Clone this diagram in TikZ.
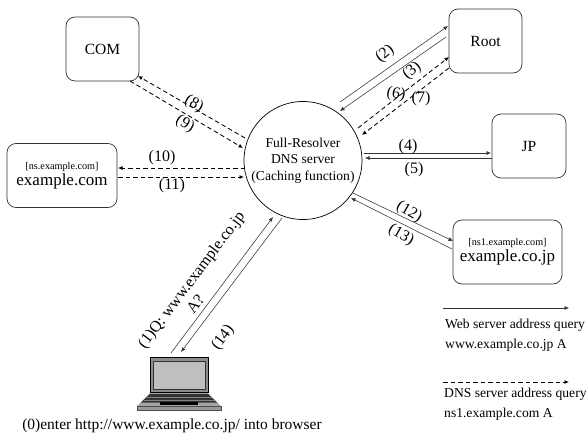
\documentclass[tikz,border=0pt]{standalone}
\usepackage{fontspec}
\setmainfont{Liberation Serif}
\usetikzlibrary{arrows.meta,calc}
\tikzset{
  x=1pt,y=-1pt,
  srv/.style={draw=black!80,line width=0.7pt,rounded corners=9pt,minimum width=#1,minimum height=64pt,inner sep=0pt,align=center},
  srv/.default=73pt,
  solidq/.style={draw=black!80,line width=0.55pt,-{Latex[length=4.5pt,width=4pt]}},
  dashq/.style={draw=black,line width=0.85pt,dash pattern=on 4.5pt off 3pt,-{Latex[length=4.5pt,width=4pt]}},
  lbl/.style={font=\fontsize{16}{18}\selectfont,inner sep=0pt},
  big/.style={font=\fontsize{15.5}{18}\selectfont},
  txt/.style={font=\fontsize{13.6}{19}\selectfont,inner sep=0pt,anchor=west},
}
\newcommand{\smalltag}[1]{{\fontsize{10.2}{12}\selectfont #1}}
\newcommand{\bigname}[1]{{\fontsize{17}{21}\selectfont #1}}
\begin{document}
\begin{tikzpicture}
\useasboundingbox (0,0) rectangle (587,434);
% servers
\node[srv=73pt,big] (com) at (102.5,49) {COM};
\node[srv=73pt,big] (root) at (485.5,41) {Root};
\node[srv=74pt,big] (jp) at (529,146) {JP};
\node[srv=110pt] (excom) at (62,175.5) {\smalltag{[ns.example.com]}\\[1pt]\bigname{example.com}};
\node[srv=109pt] (exjp) at (507.5,252) {\smalltag{[ns1.example.com]}\\[1pt]\bigname{example.co.jp}};
\node[circle,draw=black,line width=0.7pt,minimum size=118pt,inner sep=0pt,align=center,font=\fontsize{13.6}{16.5}\selectfont] (res) at (303,160.5) {Full-Resolver\\DNS server\\(Caching function)};
% laptop
\node[inner sep=0pt,minimum width=58pt,minimum height=36pt] (pc) at (179,375) {};
\fill[black!35] (150,393) -- (208,393) -- (221,406) -- (137,406) -- cycle;
\fill[black!80] (150,394) -- (208,394) -- (217,402.5) -- (141,402.5) -- cycle;
\draw[black!50,line width=0.5pt] (146.5,397.5) -- (211.5,397.5) (143.5,400.5) -- (214.5,400.5);
\draw[black!70,line width=0.6pt,fill=black!40] (137,406) rectangle (221,410);
\draw[black,line width=0.5pt,fill=black!45] (150,357) rectangle (208,392.5);
\draw[black!80,line width=0.7pt,fill=black!25] (153.5,361) rectangle (205,389);
\fill[black] (160,402) rectangle (198,404.5);
% query connectors
\coordinate (r2a) at (340,102); \coordinate (r2b) at (448,26);
\draw[solidq] (r2a) -- (r2b);
\coordinate (r3a) at (446,37); \coordinate (r3b) at (340,111);
\draw[solidq] (r3a) -- (r3b);
\coordinate (r6a) at (358,128); \coordinate (r6b) at (449,57);
\draw[dashq] (r6a) -- (r6b);
\coordinate (r7a) at (449,68); \coordinate (r7b) at (362,135);
\draw[dashq] (r7a) -- (r7b);
\coordinate (j4a) at (364,153); \coordinate (j4b) at (491,153);
\draw[solidq] (j4a) -- (j4b);
\coordinate (j5a) at (492,158); \coordinate (j5b) at (365,158);
\draw[solidq] (j5a) -- (j5b);
\coordinate (c8a) at (245,138); \coordinate (c8b) at (138,76);
\draw[dashq] (c8a) -- (c8b);
\coordinate (c9a) at (130,81); \coordinate (c9b) at (243,148);
\draw[dashq] (c9a) -- (c9b);
\coordinate (e10a) at (245,168); \coordinate (e10b) at (118,168);
\draw[dashq] (e10a) -- (e10b);
\coordinate (e11a) at (118,177); \coordinate (e11b) at (244,177);
\draw[dashq] (e11a) -- (e11b);
\coordinate (p1a) at (171,353); \coordinate (p1b) at (273,217);
\draw[solidq] (p1a) -- (p1b);
\coordinate (p14a) at (282,218); \coordinate (p14b) at (181,352);
\draw[solidq] (p14a) -- (p14b);
\coordinate (n12a) at (353,193); \coordinate (n12b) at (453,241);
\draw[solidq] (n12a) -- (n12b);
\coordinate (n13a) at (452,249); \coordinate (n13b) at (351,198);
\draw[solidq] (n13a) -- (n13b);
% labels
\node[lbl,rotate=40] (l2) at (385,54) {(2)};
\node[lbl,rotate=40] (l3) at (412,71) {(3)};
\node[lbl,rotate=-10] (l6) at (396,94) {(6)};
\node[lbl] (l7) at (421,99) {(7)};
\node[lbl] (l4) at (408,147) {(4)};
\node[lbl] (l5) at (414,170) {(5)};
\node[lbl,rotate=-30] (l8) at (194,104) {(8)};
\node[lbl,rotate=-30] (l9) at (185,124) {(9)};
\node[lbl] (l10) at (162,158) {(10)};
\node[lbl] (l11) at (172,186) {(11)};
\node[lbl,rotate=-30] (l12) at (409,212) {(12)};
\node[lbl,rotate=-30] (l13) at (401,235) {(13)};
\node[lbl,rotate=53] (l14) at (223,338) {(14)};
\node[rotate=53,align=center,inner sep=0pt,font=\fontsize{16}{18}\selectfont] (l1) at (198,285) {(1)Q: www.example.co.jp\\A?\hspace{33pt}\mbox{}};
% legend
\coordinate (w1) at (443,308); \coordinate (w2) at (569,308);
\draw[solidq] (w1) -- (w2);
\node[txt] (wt1) at (445,325) {Web server address query};
\node[txt] (wt2) at (445,345) {www.example.co.jp A};
\coordinate (d1) at (443,382); \coordinate (d2) at (569,382);
\draw[dashq] (d1) -- (d2);
\node[txt] (dt1) at (444,394) {DNS server address query};
\node[txt] (dt2) at (444,414) {ns1.example.com A};
\node[inner sep=0pt,font=\fontsize{15.5}{18}\selectfont] (cap) at (172,426) {(0)enter http://www.example.co.jp/ into browser};
\end{tikzpicture}
\end{document}
